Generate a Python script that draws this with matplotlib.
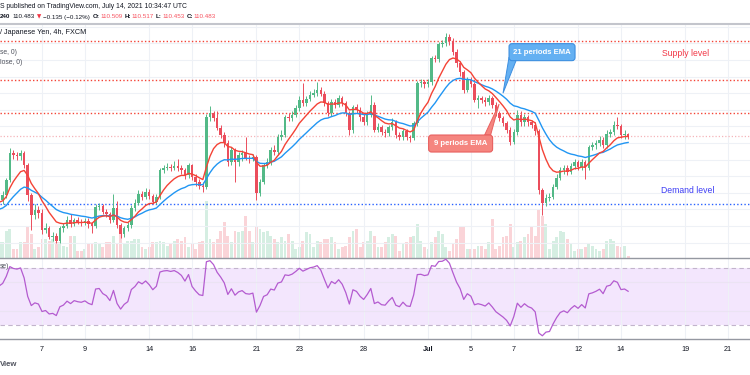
import numpy as np
import matplotlib
matplotlib.use("Agg")
import matplotlib.pyplot as plt
from matplotlib.patches import FancyBboxPatch, Polygon

plt.rcParams['font.family'] = ['Liberation Sans', 'DejaVu Sans']

# USD/JPY 4h candles, 3 Jun - 14 Jul 2021
first_open = 109.65
closes = [
    109.71, 109.77, 109.95, 110.28, 110.25, 110.24, 110.28, 110.13, 109.77, 109.53,
    109.59, 109.56, 109.35, 109.37, 109.27, 109.28, 109.22, 109.37, 109.40, 109.47,
    109.42, 109.47, 109.45, 109.44, 109.46, 109.42, 109.40, 109.63, 109.64, 109.57,
    109.54, 109.47, 109.62, 109.41, 109.30, 109.37, 109.41, 109.62, 109.68, 109.78,
    109.75, 109.81, 109.76, 109.69, 109.75, 110.07, 110.10, 110.11, 110.10, 110.12,
    110.10, 110.07, 110.01, 110.13, 109.99, 109.93, 109.88, 109.87, 110.71, 110.76,
    110.70, 110.58, 110.50, 110.40, 110.17, 110.31, 110.17, 110.25, 110.28, 110.22,
    110.21, 110.23, 109.80, 109.93, 110.13, 110.17, 110.31, 110.29, 110.47, 110.50,
    110.71, 110.70, 110.74, 110.82, 110.92, 110.88, 110.93, 110.98, 111.00, 111.04,
    110.99, 110.88, 110.76, 110.89, 110.86, 110.94, 110.88, 110.76, 110.56, 110.83,
    110.80, 110.71, 110.65, 110.74, 110.86, 110.56, 110.59, 110.53, 110.52, 110.59,
    110.65, 110.50, 110.47, 110.54, 110.47, 110.46, 110.64, 111.12, 111.13, 111.11,
    111.13, 111.42, 111.41, 111.59, 111.60, 111.68, 111.63, 111.50, 111.36, 111.25,
    111.04, 111.16, 111.11, 110.92, 110.94, 110.92, 110.89, 110.94, 110.86, 110.76,
    110.70, 110.64, 110.56, 110.41, 110.53, 110.74, 110.65, 110.71, 110.65, 110.62,
    110.54, 109.83, 109.68, 109.74, 109.75, 109.87, 109.98, 110.07, 110.10, 110.05,
    110.12, 110.17, 110.11, 110.17, 110.10, 110.35, 110.37, 110.40, 110.44, 110.37,
    110.51, 110.53, 110.62, 110.60, 110.50, 110.51, 110.48]
highs = [
    109.76, 109.82, 109.98, 110.34, 110.31, 110.29, 110.31, 110.30, 110.16, 109.80,
    109.66, 109.64, 109.60, 109.44, 109.40, 109.33, 109.31, 109.40, 109.44, 109.52,
    109.55, 109.50, 109.51, 109.48, 109.50, 109.49, 109.45, 109.66, 109.68, 109.66,
    109.60, 109.57, 109.79, 109.70, 109.44, 109.40, 109.45, 109.65, 109.72, 109.83,
    109.82, 109.86, 109.84, 109.79, 109.78, 110.10, 110.14, 110.16, 110.15, 110.18,
    110.21, 110.14, 110.10, 110.16, 110.15, 110.02, 109.96, 109.93, 110.75, 110.84,
    110.79, 110.78, 110.62, 110.53, 110.43, 110.35, 110.34, 110.29, 110.32, 110.47,
    110.26, 110.27, 110.26, 109.97, 110.16, 110.22, 110.35, 110.38, 110.51, 110.55,
    110.74, 110.76, 110.79, 110.86, 110.96, 111.12, 110.97, 111.02, 111.05, 111.13,
    111.08, 111.02, 110.91, 110.93, 110.93, 110.98, 110.97, 110.90, 110.79, 110.86,
    110.87, 110.83, 110.75, 110.78, 110.98, 110.89, 110.64, 110.62, 110.57, 110.62,
    110.70, 110.68, 110.53, 110.57, 110.57, 110.50, 110.67, 111.15, 111.17, 111.16,
    111.17, 111.45, 111.46, 111.62, 111.64, 111.72, 111.71, 111.66, 111.53, 111.39,
    111.28, 111.20, 111.19, 111.14, 110.98, 110.97, 110.95, 110.98, 110.97, 110.89,
    110.79, 110.73, 110.67, 110.59, 110.57, 110.80, 110.78, 110.75, 110.74, 110.68,
    110.65, 110.57, 109.86, 109.78, 109.80, 109.90, 110.02, 110.11, 110.14, 110.13,
    110.16, 110.21, 110.20, 110.21, 110.20, 110.38, 110.41, 110.44, 110.48, 110.47,
    110.55, 110.57, 110.66, 110.71, 110.63, 110.55, 110.52]
lows = [
    109.60, 109.66, 109.74, 109.93, 110.21, 110.20, 110.20, 110.10, 109.70, 109.35,
    109.48, 109.50, 109.30, 109.31, 109.24, 109.22, 109.19, 109.20, 109.33, 109.37,
    109.39, 109.40, 109.42, 109.40, 109.41, 109.38, 109.32, 109.38, 109.59, 109.55,
    109.51, 109.44, 109.45, 109.38, 109.26, 109.27, 109.34, 109.38, 109.58, 109.65,
    109.71, 109.72, 109.72, 109.66, 109.66, 109.73, 110.04, 110.07, 110.06, 110.07,
    110.06, 110.03, 109.97, 109.98, 109.95, 109.88, 109.85, 109.81, 109.84, 110.66,
    110.66, 110.55, 110.46, 110.35, 110.12, 110.14, 109.93, 110.12, 110.18, 110.19,
    110.16, 110.18, 109.71, 109.76, 109.90, 110.10, 110.14, 110.25, 110.26, 110.43,
    110.47, 110.66, 110.67, 110.71, 110.79, 110.85, 110.84, 110.90, 110.95, 110.97,
    110.96, 110.85, 110.72, 110.73, 110.82, 110.83, 110.84, 110.72, 110.50, 110.52,
    110.76, 110.67, 110.62, 110.62, 110.71, 110.53, 110.53, 110.49, 110.47, 110.48,
    110.56, 110.46, 110.43, 110.44, 110.43, 110.41, 110.43, 110.61, 111.08, 111.06,
    111.08, 111.10, 111.37, 111.38, 111.55, 111.57, 111.58, 111.46, 111.32, 111.21,
    111.00, 111.01, 111.07, 110.89, 110.82, 110.88, 110.85, 110.86, 110.82, 110.72,
    110.66, 110.60, 110.52, 110.37, 110.39, 110.50, 110.61, 110.60, 110.61, 110.58,
    110.50, 109.78, 109.53, 109.64, 109.70, 109.72, 109.84, 109.95, 110.03, 110.01,
    110.02, 110.09, 110.07, 110.08, 109.96, 110.07, 110.31, 110.33, 110.36, 110.34,
    110.34, 110.47, 110.50, 110.57, 110.46, 110.45, 110.45]
volumes = [
    16, 16, 27, 29, 9, 9, 16, 16, 31, 24,
    9, 11, 19, 19, 17, 19, 16, 16, 12, 11,
    22, 22, 7, 7, 9, 14, 14, 16, 14, 11,
    16, 16, 22, 14, 31, 14, 17, 17, 19, 19,
    11, 9, 11, 16, 16, 17, 16, 12, 14, 17,
    19, 17, 21, 11, 14, 9, 16, 17, 57, 19,
    16, 19, 27, 36, 22, 16, 27, 26, 27, 42,
    27, 16, 31, 29, 26, 27, 22, 19, 16, 21,
    17, 24, 17, 9, 11, 17, 26, 24, 11, 17,
    16, 19, 19, 21, 16, 9, 11, 12, 21, 27,
    29, 11, 16, 17, 27, 22, 11, 11, 16, 21,
    24, 22, 7, 14, 16, 21, 22, 34, 17, 11,
    9, 16, 21, 27, 24, 11, 7, 14, 19, 32,
    31, 9, 9, 9, 12, 12, 9, 16, 39, 9,
    12, 21, 22, 34, 11, 16, 17, 21, 24, 31,
    22, 49, 42, 34, 9, 17, 21, 27, 26, 19,
    14, 7, 9, 9, 11, 14, 12, 9, 7, 9,
    17, 19, 17, 12, 11, 12, 2]

# indicator warm-up state at the first visible bar
ema_fast_seed = 109.68
ema_slow_seed = 109.59
rsi_gain_seed = 0.060
rsi_loss_seed = 0.048

day_labels = ['7', '9', '14', '16', '21', '23', '28', 'Jul', '5', '7', '12', '14', '19', '21']
day_numbers = [2, 4, 7, 9, 12, 14, 17, 20, 22, 24, 27, 29, 32, 34]  # trading days after 3 Jun
BARS_PER_DAY = 6

supply_levels = [111.63, 111.16, 110.76]
demand_level = 109.66
last_price = 110.483

UP, DOWN = '#53b987', '#eb4d5c'
W, H = 750, 375


def ema(values, period, seed):
    k = 2.0 / (period + 1)
    out, prev = [], seed
    for v in values:
        prev = prev + k * (v - prev)
        out.append(prev)
    return np.array(out)


def rsi(values, period, gain, loss, prev):
    out = []
    for v in values:
        ch = v - prev
        gain = (gain * (period - 1) + max(ch, 0)) / period
        loss = (loss * (period - 1) + max(-ch, 0)) / period
        out.append(100 - 100 / (1 + gain / loss))
        prev = v
    return np.array(out)


closes = np.array(closes)
opens = np.array([first_open] + list(closes[:-1]))
idx = np.arange(len(closes))
up = closes >= opens
colors = np.where(up, UP, DOWN)
ticks = [d * BARS_PER_DAY for d in day_numbers]

fig = plt.figure(figsize=(7.5, 3.75), dpi=100)


def rect(top, bottom):
    return [0, 1 - bottom / H, 1, (bottom - top) / H]


xlim = (0.25, 210.1)

# volume underneath
axv = fig.add_axes(rect(24, 258))
axv.set_xlim(*xlim)
axv.set_ylim(0, 234)
axv.bar(idx, volumes, width=0.8, color=colors, alpha=0.24, lw=0)
axv.axis('off')

ax = fig.add_axes(rect(24, 258))
ax.patch.set_visible(False)
ax.set_xlim(*xlim)
ax.set_ylim(109.014, 111.833)
for t in ticks:
    ax.axvline(t, color='#eef1f6', lw=0.8, zorder=0)
for p in np.arange(109.2, 111.81, 0.2):
    ax.axhline(p, color='#eef1f6', lw=0.8, zorder=0)

for lvl in supply_levels:
    ax.axhline(lvl, color='#f44336', lw=1.0, ls=(0, (1, 1.6)), zorder=1)
ax.axhline(demand_level, color='#2962ff', lw=1.0, ls=(0, (1, 1.6)), zorder=1)
ax.axhline(last_price, color='#f5b5ba', lw=0.9, ls=(0, (1, 1.6)), zorder=1)

ax.vlines(idx, lows, highs, colors=colors, lw=0.7, zorder=2)
body = np.maximum(np.abs(closes - opens), 0.008)
ax.bar(idx, body, bottom=np.minimum(opens, closes), width=0.7, color=colors, lw=0, zorder=3)

ax.plot(idx, ema(closes, 21, ema_slow_seed), color='#2196f3', lw=1.0, zorder=4)
ax.plot(idx, ema(closes, 9, ema_fast_seed), color='#f44336', lw=1.0, zorder=5)

ax.text(192.2, 111.48, 'Supply level', color='#f23645', fontsize=6.2, ha='center', va='center')
ax.text(192.6, 109.83, 'Demand level', color='#3b3bf5', fontsize=6.2, ha='center', va='center')
ax.set_xticks([])
ax.set_yticks([])
for s in ax.spines.values():
    s.set_visible(False)

# RSI pane
axr = fig.add_axes(rect(258, 339))
axr.set_xlim(*xlim)
axr.set_ylim(20.2, 77.0)
axr.axhspan(30, 70, color='#f3e6fd', lw=0, zorder=0)
for t in ticks:
    axr.axvline(t, color='#eef1f6', lw=0.8, zorder=1)
for g in (40, 60):
    axr.axhline(g, color='#ebe3f3', lw=0.8, zorder=1)
for g in (30, 70):
    axr.axhline(g, color='#c2b4cc', lw=0.8, ls=(0, (4, 3)), zorder=1)
axr.plot(idx, rsi(closes, 14, rsi_gain_seed, rsi_loss_seed, first_open),
         color='#b45bd0', lw=0.9, zorder=3)
axr.set_yticks([])
axr.set_xticks(ticks)
axr.set_xticklabels(day_labels)
axr.tick_params(axis='x', length=0, pad=5, labelsize=5.2, labelcolor='#131722')
axr.get_xticklabels()[7].set_fontweight('bold')
for k, s in axr.spines.items():
    s.set_visible(k in ('top', 'bottom'))
    s.set_color('#9598a1')
    s.set_linewidth(1.0)

# separator under the header
fig.add_artist(plt.Line2D([0, 1], [1 - 24 / H] * 2, color='#c3c5cc', lw=1.5))

# overlay in image pixels (y down) for header and callouts
over = fig.add_axes([0, 0, 1, 1], zorder=10)
over.set_xlim(0, W)
over.set_ylim(H, 0)
over.axis('off')


def ftext(x, y, s, **kw):
    kw.setdefault('fontsize', 4.9)
    kw.setdefault('color', '#131722')
    return over.text(x, y, s, va='center', ha='left', **kw)


renderer = fig.canvas.get_renderer()


def run_of_text(y, pieces, size):
    x = 0
    for s, gap, kw in pieces:
        kw = dict(kw)
        kw.setdefault('fontsize', size)
        t = ftext(x + gap, y, s, **kw)
        x = x + gap + t.get_window_extent(renderer).width


red = '#f7525f'
ftext(0, 6, 'S published on TradingView.com, July 14, 2021 10:34:47 UTC')
run_of_text(17, [
    ('240', 0, dict(fontweight='bold')),
    ('110.483', 2, {}),
    ('\u25bc', 2, dict(color='#f23645', fontsize=4.0, family=['DejaVu Sans'])),
    ('\u22120.135 (\u22120.12%)', 2, {}),
    ('O:', 3, dict(fontweight='bold')), ('110.509', 0.5, dict(color=red)),
    ('H:', 2, dict(fontweight='bold')), ('110.517', 0.5, dict(color=red)),
    ('L:', 2, dict(fontweight='bold')), ('110.453', 0.5, dict(color=red)),
    ('C:', 2, dict(fontweight='bold')), ('110.483', 0.5, dict(color=red)),
], 4.5)
ftext(0, 33, '/ Japanese Yen, 4h, FXCM', fontsize=5.2)
ftext(0, 52, 'se, 0)', color='#50535e')
ftext(0, 62, 'lose, 0)', color='#50535e')
ftext(0, 267, 'se)', color='#50535e')
ftext(0, 364, 'View', color='#50535e', fontsize=5.6, fontweight='bold')


def to_px(x, y):
    dx, dy = ax.transData.transform((x, y))
    return dx, H - dy


def callout(text, tip, dbox, base, face, edge, w, h):
    tx, ty = to_px(*tip)
    bx, by = tx + dbox[0], ty + dbox[1]
    b1 = (bx + base[0][0], by + base[0][1])
    b2 = (bx + base[1][0], by + base[1][1])
    over.add_patch(Polygon([b1, b2, (tx, ty)], closed=True, fc=face, ec=edge, lw=0.7))
    over.add_patch(FancyBboxPatch((bx - w / 2, by - h / 2), w, h,
                                  boxstyle='round,pad=0,rounding_size=3',
                                  fc=face, ec=edge, lw=0.8))
    over.text(bx, by, text, color='white', fontsize=5.6, fontweight='bold',
              ha='center', va='center')


callout('21 periods EMA', (141.0, 111.00), (39, -41), [(-33, 5), (-26, 8.5)],
        '#64b0f2', '#3d8fe0', 66, 17)
callout('9 periods EMA', (139.9, 110.869), (-38.5, 39.5), [(24, -8.5), (30, -8.5)],
        '#f5857f', '#e8605f', 64, 17)

fig.savefig('out.png', dpi=100, facecolor='white')
